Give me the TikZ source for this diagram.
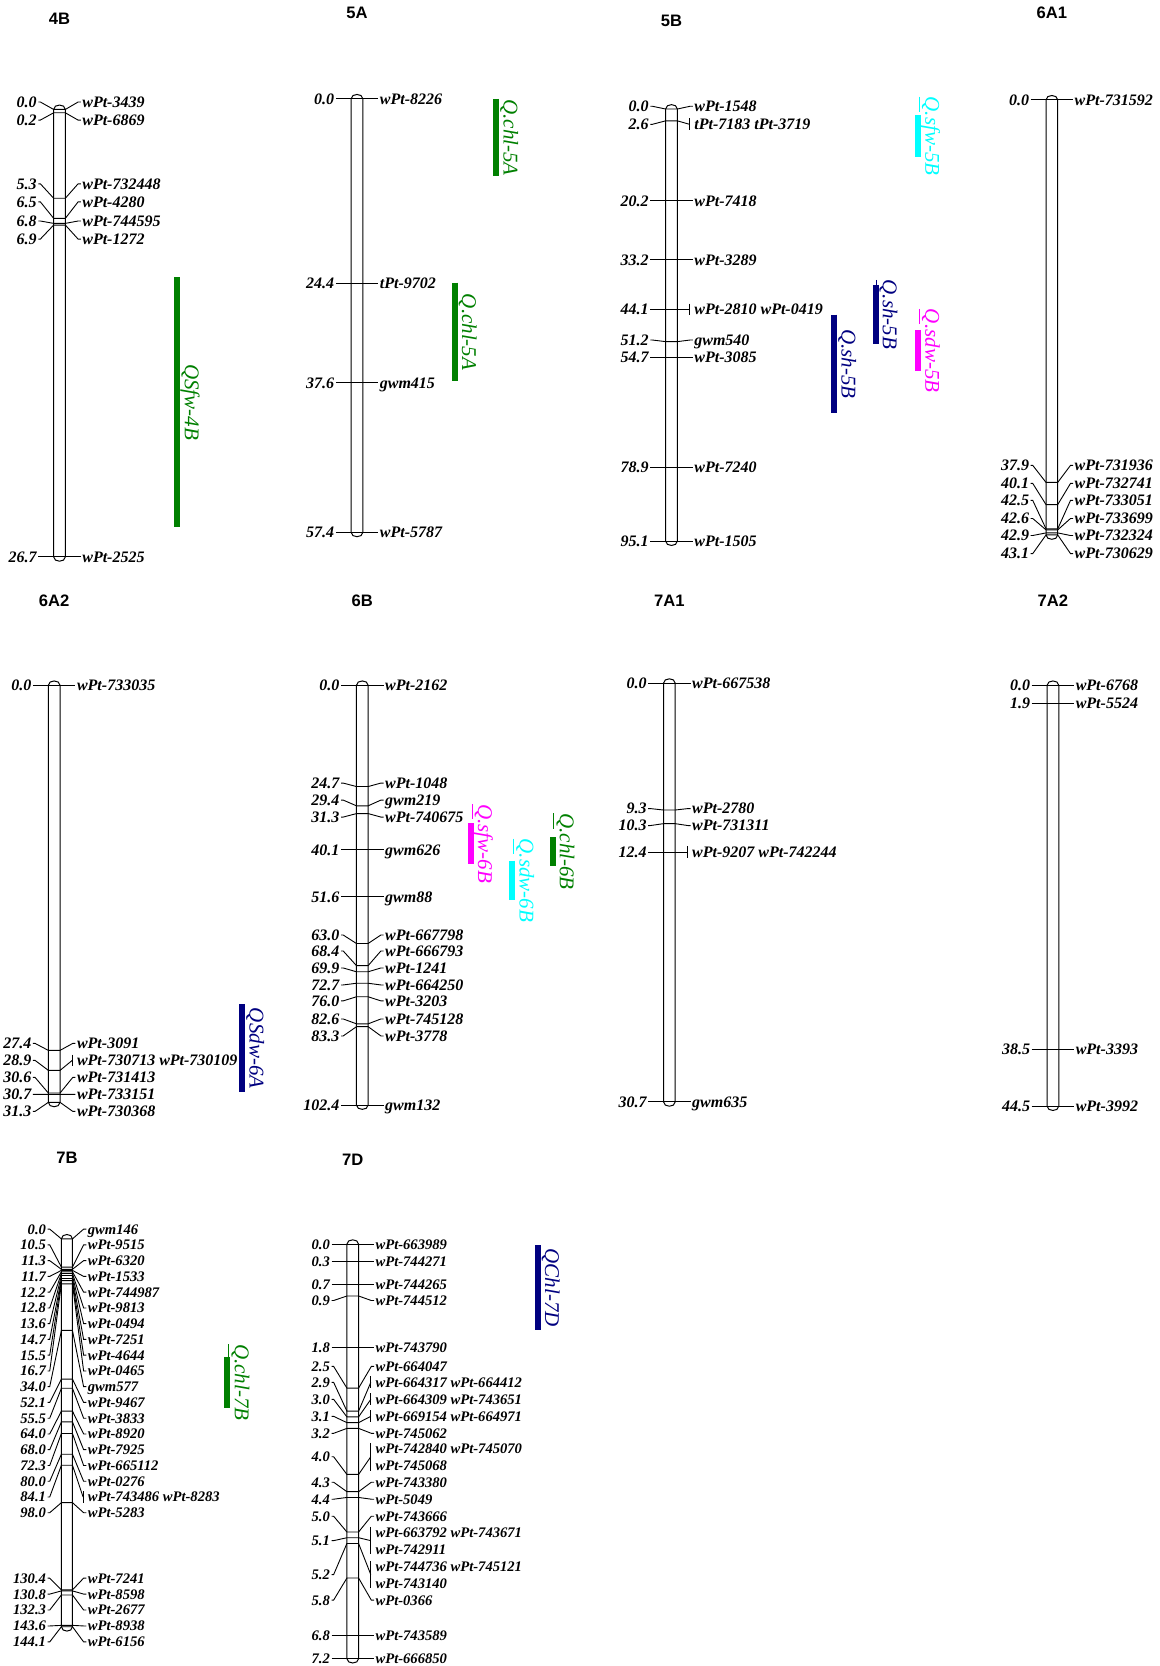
\documentclass[tikz,border=0pt]{standalone}
\usepackage{fontspec}
\setmainfont{Liberation Serif}
\setsansfont{Liberation Sans}
\usepackage{tikz}
\usetikzlibrary{calc}
\definecolor{qgreen}{RGB}{0,128,0}
\definecolor{qnavy}{RGB}{0,0,128}
\definecolor{qcyan}{RGB}{0,255,255}
\definecolor{qmag}{RGB}{255,0,255}
\tikzset{
  chrbar/.style={draw=black, line width=0.5pt},
  mline/.style={draw=black, line width=0.45pt},
  lab/.style={font=\fontsize{8}{9}\selectfont\bfseries\itshape, inner sep=0.6pt, text height=5.4pt, text depth=0pt},
  ttl/.style={font=\sffamily\bfseries\fontsize{8.3}{10}\selectfont, inner sep=0pt},
  qbar/.style={line width=3pt},
  qlab/.style={font=\fontsize{10.5}{12}\selectfont\itshape, inner sep=0pt}
}
\newcounter{mrkno}
\newcounter{qtlno}
\newcommand{\chrhw}{5.5}
\newcommand{\chrgap}{14.5}
% chromosome: x, y of first marker, px per cM, last cM, title, title y
\newcommand{\chrom}[6]{%
  \def\chrx{#1}\def\chry{#2}\def\chrs{#3}%
  \pgfmathsetmacro\chrend{#2+(#4)*#3}%
  \draw[chrbar] (#1-\chrhw,\chrend) -- (#1-\chrhw,#2)
    .. controls (#1-\chrhw,#2-5.5) and (#1+\chrhw,#2-5.5) .. (#1+\chrhw,#2)
    -- (#1+\chrhw,\chrend)
    .. controls (#1+\chrhw,\chrend+5.5) and (#1-\chrhw,\chrend+5.5) .. (#1-\chrhw,\chrend) -- cycle;
  \node[ttl] (T#5) at (#1,#6) {#5};
}
\newcommand{\mrkpos}[2]{%
  \stepcounter{mrkno}%
  \pgfmathsetmacro\tky{\chry+(#1)*\chrs}%
  \def\lbtmp{#2}%
  \ifx\lbtmp\empty\let\lby\tky\else\def\lby{#2}\fi
  \node[lab,anchor=east] (L\themrkno) at (\chrx-\chrhw-\chrgap,\lby) {#1};%
}
% marker: cM, label y (empty = level), name
\newcommand{\mrk}[3]{%
  \mrkpos{#1}{#2}%
  \node[lab,anchor=west] (R\themrkno) at (\chrx+\chrhw+\chrgap,\lby) {#3};
  \draw[mline] (L\themrkno.east) -- ++(2,0) -- (\chrx-\chrhw,\tky) -- (\chrx+\chrhw,\tky)
    -- ($(R\themrkno.west)+(-2.5,0)$) -- (R\themrkno.west);
}
\newcommand{\mrkb}[3]{%
  \mrkpos{#1}{#2}%
  \node[lab,anchor=west] (R\themrkno) at (\chrx+\chrhw+\chrgap,\lby) {#3};
  \draw[mline] (L\themrkno.east) -- ++(2,0) -- (\chrx-\chrhw,\tky) -- (\chrx+\chrhw,\tky)
    -- ($(R\themrkno.west)+(-3,0)$);
  \draw[mline] ($(R\themrkno.west)+(-3,-5.5)$) -- ++(0,11);
}
\newcommand{\mrkbb}[4]{%
  \mrkpos{#1}{#2}%
  \node[lab,anchor=west] (R\themrkno) at (\chrx+\chrhw+\chrgap,\lby-8) {#3};
  \node[lab,anchor=west] (S\themrkno) at (\chrx+\chrhw+\chrgap,\lby+8) {#4};
  \draw[mline] (L\themrkno.east) -- ++(2,0) -- (\chrx-\chrhw,\tky) -- (\chrx+\chrhw,\tky)
    -- ($(R\themrkno.west)+(-3,8)$);
  \draw[mline] ($(R\themrkno.west)+(-3,-5)$) -- ($(S\themrkno.west)+(-3,5)$);
}
% QTL: x, top, bottom, colour, label
\newcommand{\qtl}[5]{%
  \stepcounter{qtlno}%
  \pgfmathsetmacro\qmid{(#2+#3)/2}%
  \draw[qbar,#4] (#1,#2) -- (#1,#3);
  \node[qlab,text=#4,rotate=-90,anchor=base] (Q\theqtlno) at (#1+7,\qmid) {#5};
}

\begin{document}
\begin{tikzpicture}[x=0.5312pt,y=-0.5312pt]
\fill[white] (0,0) rectangle (1091,1568);
\useasboundingbox (0,0) rectangle (1091,1568);

% 4B
\chrom{56}{103}{15.77}{26.7}{4B}{18}
\mrk{0.0}{96}{wPt-3439}
\mrk{0.2}{113}{wPt-6869}
\mrk{5.3}{173}{wPt-732448}
\mrk{6.5}{190}{wPt-4280}
\mrk{6.8}{208}{wPt-744595}
\mrk{6.9}{225}{wPt-1272}
\mrk{26.7}{}{wPt-2525}
\qtl{167}{261}{496}{qgreen}{\underline{Q}Sfw-4B}

% 5A
\chrom{336}{93}{7.108}{57.4}{5A}{12}
\mrk{0.0}{}{wPt-8226}
\mrk{24.4}{}{tPt-9702}
\mrk{37.6}{}{gwm415}
\mrk{57.4}{}{wPt-5787}
\qtl{467}{93}{166}{qgreen}{\underline{Q}.chl-5A}
\qtl{428}{266}{359}{qgreen}{\underline{Q}.chl-5A}

% 5B
\chrom{632}{102.6}{4.276}{95.1}{5B}{20}
\mrk{0.0}{100}{wPt-1548}
\mrkb{2.6}{117}{tPt-7183 tPt-3719}
\mrk{20.2}{}{wPt-7418}
\mrk{33.2}{}{wPt-3289}
\mrkb{44.1}{}{wPt-2810 wPt-0419}
\mrk{51.2}{320}{gwm540}
\mrk{54.7}{}{wPt-3085}
\mrk{78.9}{}{wPt-7240}
\mrk{95.1}{}{wPt-1505}
\qtl{864}{108}{148}{qcyan}{\underline{Q}.sfw-5B}
\qtl{824}{268}{324}{qnavy}{\underline{Q}.sh-5B}
\qtl{785}{296}{389}{qnavy}{\underline{Q}.sh-5B}
\qtl{864}{311}{349}{qmag}{\underline{Q}.sdw-5B}

% 6A1
\chrom{990}{94}{9.5}{43.1}{6A1}{12}
\mrk{0.0}{}{wPt-731592}
\mrk{37.9}{438}{wPt-731936}
\mrk{40.1}{455}{wPt-732741}
\mrk{42.5}{471}{wPt-733051}
\mrk{42.6}{488}{wPt-733699}
\mrk{42.9}{504}{wPt-732324}
\mrk{43.1}{521}{wPt-730629}

% 6A2
\chrom{51}{645}{12.54}{31.3}{6A2}{565}
\mrk{0.0}{}{wPt-733035}
\mrk{27.4}{982}{wPt-3091}
\mrkb{28.9}{998}{wPt-730713 wPt-730109}
\mrk{30.6}{1014}{wPt-731413}
\mrk{30.7}{1030}{wPt-733151}
\mrk{31.3}{1046}{wPt-730368}
\qtl{228}{945}{1028}{qnavy}{\underline{Q}Sdw-6A}

% 6B
\chrom{341}{645}{3.857}{102.4}{6B}{565}
\mrk{0.0}{}{wPt-2162}
\mrk{24.7}{737}{wPt-1048}
\mrk{29.4}{753}{gwm219}
\mrk{31.3}{769}{wPt-740675}
\mrk{40.1}{}{gwm626}
\mrk{51.6}{}{gwm88}
\mrk{63.0}{880}{wPt-667798}
\mrk{68.4}{895}{wPt-666793}
\mrk{69.9}{911}{wPt-1241}
\mrk{72.7}{927}{wPt-664250}
\mrk{76.0}{942}{wPt-3203}
\mrk{82.6}{959}{wPt-745128}
\mrk{83.3}{975}{wPt-3778}
\mrk{102.4}{}{gwm132}
\qtl{443}{775}{813}{qmag}{\underline{Q}.sfw-6B}
\qtl{482}{810}{847}{qcyan}{\underline{Q}.sdw-6B}
\qtl{520}{788}{815}{qgreen}{\underline{Q}.chl-6B}

% 7A1
\chrom{630}{643}{12.834}{30.7}{7A1}{565}
\mrk{0.0}{}{wPt-667538}
\mrk{9.3}{761}{wPt-2780}
\mrk{10.3}{777}{wPt-731311}
\mrkb{12.4}{}{wPt-9207 wPt-742244}
\mrk{30.7}{}{gwm635}

% 7A2
\chrom{991}{645}{8.899}{44.5}{7A2}{565}
\mrk{0.0}{}{wPt-6768}
\mrk{1.9}{}{wPt-5524}
\mrk{38.5}{}{wPt-3393}
\mrk{44.5}{}{wPt-3992}

\begin{scope}[lab/.append style={font=\fontsize{7.3}{8.5}\selectfont\bfseries\itshape, text height=4.95pt}]
% 7B
\renewcommand{\chrhw}{5.2}\renewcommand{\chrgap}{13}
\chrom{63}{1166}{2.533}{144.1}{7B}{1090}
\mrk{0.0}{1156.8}{gwm146}
\mrk{10.5}{1171.6}{wPt-9515}
\mrk{11.3}{1186.5}{wPt-6320}
\mrk{11.7}{1201.3}{wPt-1533}
\mrk{12.2}{1216.1}{wPt-744987}
\mrk{12.8}{1231}{wPt-9813}
\mrk{13.6}{1245.8}{wPt-0494}
\mrk{14.7}{1260.6}{wPt-7251}
\mrk{15.5}{1275.4}{wPt-4644}
\mrk{16.7}{1290.3}{wPt-0465}
\mrk{34.0}{1305.1}{gwm577}
\mrk{52.1}{1319.9}{wPt-9467}
\mrk{55.5}{1334.8}{wPt-3833}
\mrk{64.0}{1349.6}{wPt-8920}
\mrk{68.0}{1364.4}{wPt-7925}
\mrk{72.3}{1379.3}{wPt-665112}
\mrk{80.0}{1394.1}{wPt-0276}
\mrkb{84.1}{1408.9}{wPt-743486 wPt-8283}
\mrk{98.0}{1423.7}{wPt-5283}
\mrk{130.4}{1485.3}{wPt-7241}
\mrk{130.8}{1500.3}{wPt-8598}
\mrk{132.3}{1515.3}{wPt-2677}
\mrk{143.6}{1530.3}{wPt-8938}
\mrk{144.1}{1545.3}{wPt-6156}
\qtl{214}{1277}{1325}{qgreen}{\underline{Q}.chl-7B}

% 7D
\renewcommand{\chrhw}{5.5}\renewcommand{\chrgap}{14.5}
\chrom{332}{1171}{54.17}{7.2}{7D}{1092}
\mrk{0.0}{}{wPt-663989}
\mrk{0.3}{}{wPt-744271}
\mrk{0.7}{}{wPt-744265}
\mrk{0.9}{1224}{wPt-744512}
\mrk{1.8}{}{wPt-743790}
\mrk{2.5}{1286}{wPt-664047}
\mrkb{2.9}{1301}{wPt-664317 wPt-664412}
\mrkb{3.0}{1317}{wPt-664309 wPt-743651}
\mrkb{3.1}{1333}{wPt-669154 wPt-664971}
\mrk{3.2}{1349}{wPt-745062}
\mrkbb{4.0}{1371}{wPt-742840 wPt-745070}{wPt-745068}
\mrk{4.3}{1395}{wPt-743380}
\mrk{4.4}{1411}{wPt-5049}
\mrk{5.0}{1427}{wPt-743666}
\mrkbb{5.1}{1450}{wPt-663792 wPt-743671}{wPt-742911}
\mrkbb{5.2}{1482}{wPt-744736 wPt-745121}{wPt-743140}
\mrk{5.8}{1506}{wPt-0366}
\mrk{6.8}{}{wPt-743589}
\mrk{7.2}{}{wPt-666850}
\qtl{506}{1172}{1252}{qnavy}{\underline{Q}Chl-7D}
\end{scope}
\end{tikzpicture}
\end{document}
